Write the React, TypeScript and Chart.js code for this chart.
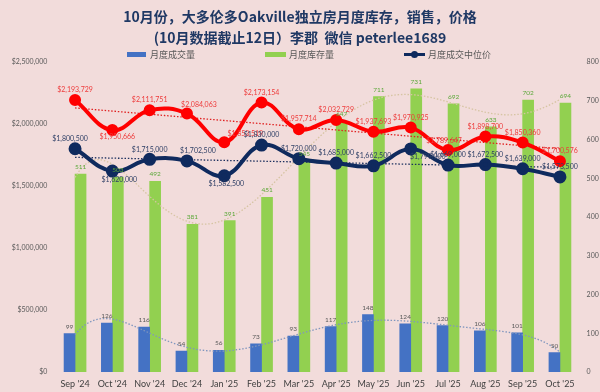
import React, { useEffect, useRef } from "react";
import { Chart, registerables } from "chart.js";

Chart.register(...registerables);

// ---------- data ----------
const categories = [
  "Sep '24", "Oct '24", "Nov '24", "Dec '24", "Jan '25", "Feb '25", "Mar '25",
  "Apr '25", "May '25", "Jun '25", "Jul '25", "Aug '25", "Sep '25", "Oct '25",
];
const salesVolume = [99, 126, 116, 54, 56, 73, 93, 117, 148, 124, 120, 106, 101, 50];
const inventory = [511, 503, 492, 381, 391, 451, 545, 647, 711, 731, 692, 633, 702, 694];
const medianPrice = [
  1800500, 1620000, 1715000, 1702500, 1582500, 1830000, 1720000,
  1685000, 1662500, 1799000, 1669000, 1672500, 1639000, 1573500,
];
const averagePrice = [
  2193729, 1950666, 2111751, 2084063, 1853519, 2173154, 1957714,
  2032729, 1937693, 1970925, 1789647, 1898700, 1850360, 1700576,
];
const priceMax = 2500000;
const priceStep = 500000;
const countMax = 800;
const countStep = 100;
const titleLines = [
  "10月份，大多伦多Oakville独立房月度库存，销售，价格",
  "(10月数据截止12日）李郡  微信 peterlee1689",
];
const legendLabels = ["月度成交量", "月度库存量", "月度成交中位价"];

// ---------- styles ----------
const BG = "#F2DCDB";
const BLUE = "#4472C4";
const GREEN = "#92D050";
const NAVY = "#0F2A5E";
const RED = "#FF0000";
const LABEL_FONT = 'Lato, "Noto Sans", sans-serif';
const CJK_FONT = '"Noto Sans CJK SC", "Noto Sans", sans-serif';

const fmtMoney = (v: number) => "$" + Math.round(v).toLocaleString("en-US");
const fmtInt = (v: number) => String(v);

// points positioned by category index on the hidden linear x axis
const byIndex = (ys: number[]) => ys.map((y, i) => ({ x: i, y }));

// least-squares polynomial trendline (like Excel's trendline), sampled finely
function polyFit(ys: number[], degree: number) {
  const n = ys.length;
  const h = (n - 1) / 2;
  const norm = (x: number) => (x - h) / h;
  const m = degree + 1;
  const A: number[][] = Array.from({ length: m }, () => new Array(m + 1).fill(0));
  for (let i = 0; i < n; i++) {
    const t = norm(i);
    for (let r = 0; r < m; r++) {
      for (let c = 0; c < m; c++) A[r][c] += Math.pow(t, r + c);
      A[r][m] += Math.pow(t, r) * ys[i];
    }
  }
  for (let col = 0; col < m; col++) {
    let piv = col;
    for (let r = col + 1; r < m; r++) if (Math.abs(A[r][col]) > Math.abs(A[piv][col])) piv = r;
    const tmp = A[col]; A[col] = A[piv]; A[piv] = tmp;
    for (let r = 0; r < m; r++) {
      if (r === col) continue;
      const f = A[r][col] / A[col][col];
      for (let c = col; c <= m; c++) A[r][c] -= f * A[col][c];
    }
  }
  const coef = A.map((row, i) => row[m] / row[i]);
  return (x: number) => {
    const t = norm(x);
    return coef.reduce((s, a, k) => s + a * Math.pow(t, k), 0);
  };
}
function trend(ys: number[], degree: number) {
  const f = polyFit(ys, degree);
  const pts: { x: number; y: number }[] = [];
  const steps = 130;
  for (let k = 0; k <= steps; k++) {
    const x = ((ys.length - 1) * k) / steps;
    pts.push({ x, y: f(x) });
  }
  return pts;
}

// label placement style (offsets in px from the mark)
const labelStyles: Record<string, any> = {
  avg: { values: averagePrice, color: "#EE3B3B", font: `7px ${LABEL_FONT}`, dy: -10, fmt: fmtMoney,
    nudges: { 1: [5, 17], 3: [12, 1], 4: [21, 2], 10: [-4, 1] } },
  median: { values: medianPrice, color: "#2E3F66", font: `7px ${LABEL_FONT}`, dy: -10, fmt: fmtMoney,
    nudges: { 0: [-5, 0], 1: [7, 19], 3: [11, 0], 4: [2, 18], 9: [17, 18] } },
  volume: { values: salesVolume, color: "#595959", font: `6.5px ${LABEL_FONT}`, dy: -7, fmt: fmtInt, nudges: {} },
  inventory: { values: inventory, color: "#5CA83A", font: `6.5px ${LABEL_FONT}`, dy: -7, fmt: fmtInt, nudges: {} },
};

const backgroundPlugin = {
  id: "bgFill",
  beforeDraw(chart: any) {
    const { ctx, width, height } = chart;
    ctx.save();
    ctx.fillStyle = BG;
    ctx.fillRect(0, 0, width, height);
    ctx.restore();
  },
};

const valueLabelPlugin = {
  id: "valueLabels",
  afterDatasetsDraw(chart: any) {
    const ctx = chart.ctx;
    chart.data.datasets.forEach((ds: any, i: number) => {
      const st = labelStyles[ds.labelKey];
      if (!st) return;
      const meta = chart.getDatasetMeta(i);
      ctx.save();
      ctx.font = st.font;
      ctx.fillStyle = st.color;
      ctx.textAlign = "center";
      ctx.textBaseline = "middle";
      meta.data.forEach((el: any, j: number) => {
        const nudge = st.nudges[j] || [0, 0];
        ctx.fillText(st.fmt(st.values[j]), el.x + nudge[0], el.y + st.dy + nudge[1]);
      });
      ctx.restore();
    });
  },
};

const legendPlugin = {
  id: "seriesLegend",
  afterDraw(chart: any) {
    const ctx = chart.ctx;
    const y = 54.5;
    ctx.save();
    ctx.font = `9px ${CJK_FONT}`;
    ctx.textAlign = "left";
    ctx.textBaseline = "middle";
    // volume
    ctx.fillStyle = BLUE;
    ctx.fillRect(127, y - 2.5, 19, 5);
    ctx.fillStyle = "#595959";
    ctx.fillText(legendLabels[0], 150, y);
    // inventory
    ctx.fillStyle = GREEN;
    ctx.fillRect(265, y - 2.5, 21, 5);
    ctx.fillStyle = "#595959";
    ctx.fillText(legendLabels[1], 289, y);
    // median price
    ctx.strokeStyle = NAVY;
    ctx.lineWidth = 3;
    ctx.beginPath();
    ctx.moveTo(404, y);
    ctx.lineTo(425, y);
    ctx.stroke();
    ctx.fillStyle = NAVY;
    ctx.beginPath();
    ctx.arc(414.5, y, 3.5, 0, Math.PI * 2);
    ctx.fill();
    ctx.fillStyle = "#595959";
    ctx.fillText(legendLabels[2], 428, y);
    ctx.restore();
  },
};

export default function App() {
  const canvasRef = useRef<HTMLCanvasElement | null>(null);

  useEffect(() => {
    const canvas = canvasRef.current;
    if (!canvas) return;
    const trendBase = {
      type: "line" as const,
      xAxisID: "xt",
      pointRadius: 0,
      tension: 0,
      fill: false,
    };
    const chart = new Chart(canvas, {
      type: "bar",
      data: {
        labels: categories,
        datasets: [
          {
            type: "line", label: "月度平均价", labelKey: "avg", data: byIndex(averagePrice),
            xAxisID: "xt", yAxisID: "yPrice", borderColor: RED, backgroundColor: RED,
            borderWidth: 4, pointRadius: 4, pointBackgroundColor: RED, pointBorderColor: RED,
            tension: 0.4, order: 0,
          },
          {
            type: "line", label: legendLabels[2], labelKey: "median", data: byIndex(medianPrice),
            xAxisID: "xt", yAxisID: "yPrice", borderColor: NAVY, backgroundColor: NAVY,
            borderWidth: 4, pointRadius: 4.5, pointBackgroundColor: NAVY, pointBorderColor: NAVY,
            tension: 0.4, order: 1,
          },
          {
            ...trendBase, label: "avg trend", data: trend(averagePrice, 1), yAxisID: "yPrice",
            borderColor: "#E02020", borderWidth: 1.3, borderDash: [1.5, 1.8], order: 2,
          },
          {
            ...trendBase, label: "median trend", data: trend(medianPrice, 1), yAxisID: "yPrice",
            borderColor: "#1B2F5E", borderWidth: 1.3, borderDash: [1.5, 1.8], order: 2,
          },
          {
            ...trendBase, label: "volume trend", data: trend(salesVolume, 6), yAxisID: "yCount",
            borderColor: "#8096BE", borderWidth: 1.3, borderDash: [1.5, 1.8], order: 3,
          },
          {
            ...trendBase, label: "inventory trend", data: trend(inventory, 6), yAxisID: "yCount",
            borderColor: "#D6C4A2", borderWidth: 1.3, borderDash: [1.5, 1.8], order: 3,
          },
          {
            type: "bar", label: legendLabels[0], labelKey: "volume", data: salesVolume,
            xAxisID: "x", yAxisID: "yCount", backgroundColor: BLUE,
            barThickness: 11, order: 5,
          },
          {
            type: "bar", label: legendLabels[1], labelKey: "inventory", data: inventory,
            xAxisID: "x", yAxisID: "yCount", backgroundColor: GREEN,
            barThickness: 11, order: 5,
          },
        ] as any,
      },
      options: {
        animation: false,
        responsive: false,
        maintainAspectRatio: false,
        layout: { padding: 0 },
        plugins: {
          legend: { display: false },
          tooltip: { enabled: false },
          title: {
            display: true,
            text: titleLines,
            color: "#1F3864",
            font: { family: CJK_FONT, size: 14, weight: "bold", lineHeight: 1.45 },
            padding: { top: 7, bottom: 14.4 },
          },
        },
        scales: {
          x: {
            type: "category",
            offset: true,
            grid: { display: false, drawTicks: false },
            border: { display: false },
            ticks: { color: "#404040", font: { family: LABEL_FONT, size: 9 }, padding: 7, maxRotation: 0, autoSkip: false },
            afterFit: (s: any) => { s.height = 20; },
          },
          xt: {
            type: "linear",
            display: false,
            offset: false,
            position: "bottom",
            min: -0.5,
            max: categories.length - 0.5,
          },
          yPrice: {
            type: "linear",
            position: "left",
            min: 0,
            max: priceMax,
            grid: { display: false, drawTicks: false },
            border: { display: false },
            ticks: {
              stepSize: priceStep, color: "#595959", font: { family: LABEL_FONT, size: 7 }, padding: 9,
              callback: (v: any) => fmtMoney(Number(v)),
            },
            afterFit: (s: any) => { s.width = 56.4; },
          },
          yCount: {
            type: "linear",
            position: "right",
            min: 0,
            max: countMax,
            grid: { display: false, drawTicks: false },
            border: { display: false },
            ticks: { stepSize: countStep, color: "#595959", font: { family: LABEL_FONT, size: 7 }, padding: 8 },
            afterFit: (s: any) => { s.width = 21.4; },
          },
        },
      } as any,
      plugins: [backgroundPlugin, valueLabelPlugin, legendPlugin],
    });
    return () => chart.destroy();
  }, []);

  return (
    <div style={{ position: "absolute", left: 0, top: 0, width: 600, height: 392, background: BG }}>
      <canvas ref={canvasRef} width={600} height={392} style={{ display: "block" }} />
    </div>
  );
}
